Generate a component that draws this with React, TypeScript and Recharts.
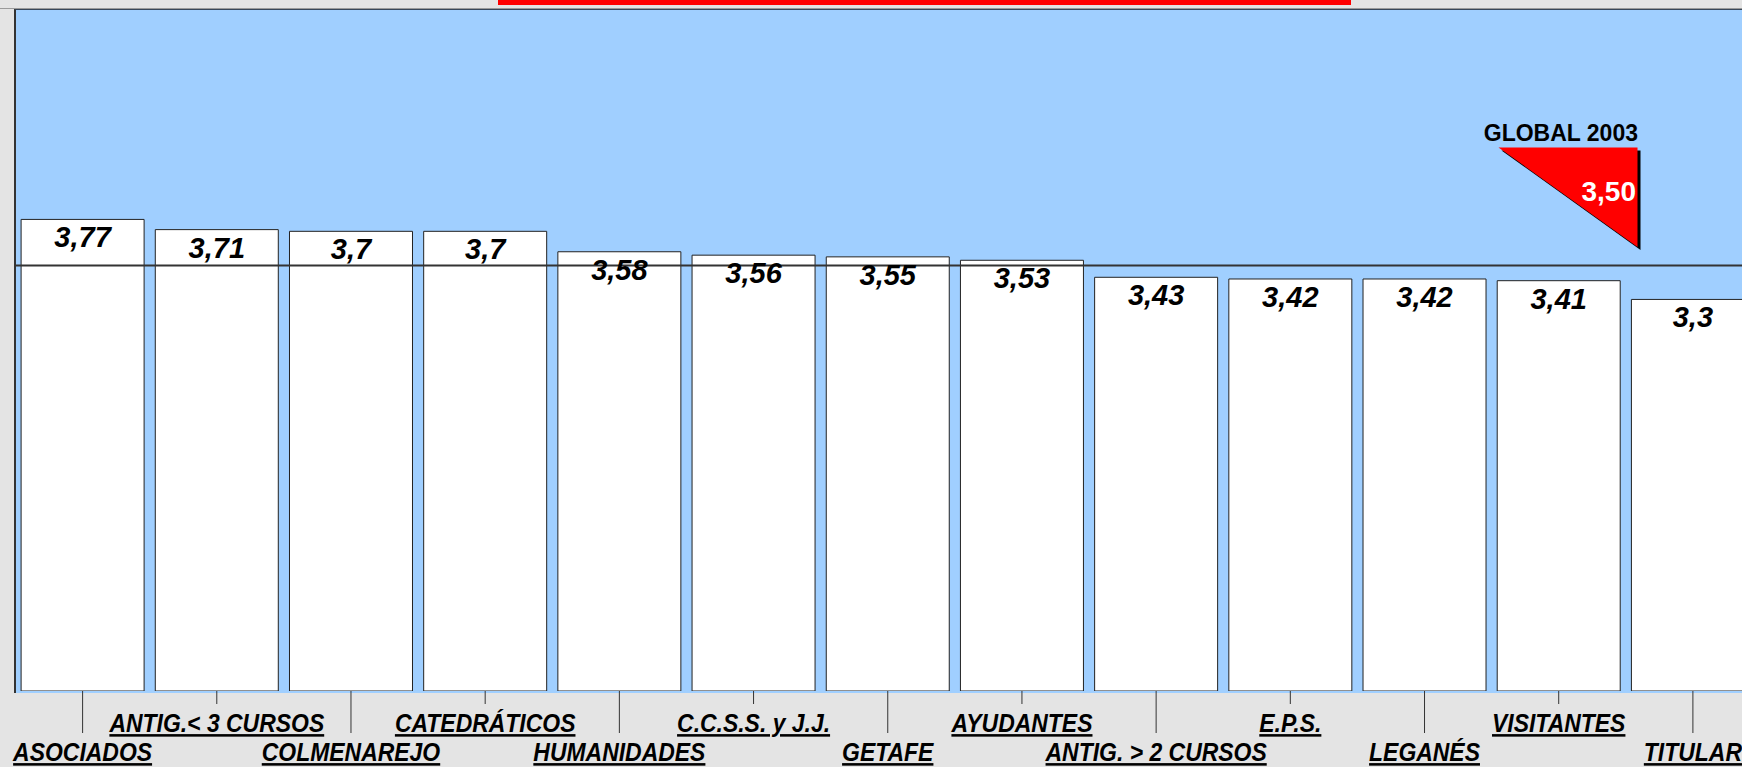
import { BarChart, Bar, XAxis, YAxis, ReferenceLine, LabelList } from 'recharts'

const categories = [
  'ASOCIADOS',
  'ANTIG.< 3 CURSOS',
  'COLMENAREJO',
  'CATEDRÁTICOS',
  'HUMANIDADES',
  'C.C.S.S. y J.J.',
  'GETAFE',
  'AYUDANTES',
  'ANTIG. > 2 CURSOS',
  'E.P.S.',
  'LEGANÉS',
  'VISITANTES',
  'TITULAR',
]
const values = [3.77, 3.71, 3.7, 3.7, 3.58, 3.56, 3.55, 3.53, 3.43, 3.42, 3.42, 3.41, 3.3]
const globalValue = 3.5
const globalLabel = 'GLOBAL 2003'
const yDomain = [1, 5]

const data = categories.map((name, i) => ({ name, value: values[i] }))

const FONT = '"Liberation Sans", Arial, sans-serif'
const fmt = (v: number) => String(v).replace('.', ',')

function StaggeredTick(props: any) {
  const { x, y, payload } = props
  const idx = categories.indexOf(payload.value)
  const upper = idx % 2 === 1
  const tickLen = upper ? 13 : 42
  const baseline = upper ? 41 : 70
  return (
    <g transform={`translate(${x},${y})`}>
      <line x1={0} y1={0} x2={0} y2={tickLen} stroke="#333" strokeWidth={1} />
      <text
        transform={`translate(0,${baseline}) scale(0.9,1)`}
        textAnchor="middle"
        fontFamily={FONT}
        fontSize={25.5}
        fontWeight="bold"
        fontStyle="italic"
        fill="#000"
        style={{ textDecoration: 'underline', textDecorationThickness: '2.5px', textUnderlineOffset: '3px' }}
      >
        {payload.value}
      </text>
    </g>
  )
}

function ValueLabel(props: any) {
  const { x, y, width, value } = props
  return (
    <text
      x={x + width / 2}
      y={y + 28}
      textAnchor="middle"
      fontFamily={FONT}
      fontSize={29}
      fontWeight="bold"
      fontStyle="italic"
      fill="#000"
    >
      {fmt(value)}
    </text>
  )
}

function GlobalMarker(props: any) {
  const vb = props.viewBox || {}
  const ly = vb.y
  const right = vb.x + 1622
  const left = right - 139
  const top = ly - 118
  const tip = ly - 18.5
  return (
    <g>
      <polygon points={`${left + 3},${top + 3} ${right + 3},${top + 3} ${right + 3},${tip + 3}`} fill="#000" />
      <polygon points={`${left},${top} ${right},${top} ${right},${tip}`} fill="#ff0000" />
      <text
        x={right + 0.5}
        y={ly - 124}
        textAnchor="end"
        fontFamily={FONT}
        fontSize={23}
        fontWeight="bold"
        fill="#000"
      >
        {globalLabel}
      </text>
      <text
        x={right - 1.5}
        y={ly - 64}
        textAnchor="end"
        fontFamily={FONT}
        fontSize={28}
        fontWeight="bold"
        fill="#fff"
      >
        {fmt(globalValue).padEnd(4, '0')}
      </text>
    </g>
  )
}

export default function App() {
  return (
    <div
      style={{
        position: 'fixed',
        left: 0,
        top: 0,
        width: 1742,
        height: 767,
        overflow: 'hidden',
        background: '#e4e4e4',
      }}
    >
      <div style={{ position: 'absolute', left: 498, top: 0, width: 853, height: 5, background: '#ff0000' }} />
      <div style={{ position: 'absolute', left: 0, top: 8, width: 1742, height: 1, background: '#9a9a9a' }} />
      <div
        style={{
          position: 'absolute',
          left: 14,
          top: 9,
          width: 1760,
          height: 684,
          background: '#a0cfff',
          borderTop: '1px solid #37475a',
          borderLeft: '2px solid #333',
          boxSizing: 'border-box',
        }}
      />
      <div style={{ position: 'absolute', left: 0, top: 0 }}>
        <BarChart
          width={1770}
          height={767}
          data={data}
          margin={{ top: 10, right: 10, bottom: 0, left: 15.5 }}
          barCategoryGap={5.6}
        >
          <XAxis
            dataKey="name"
            interval={0}
            height={76}
            axisLine={false}
            tickLine={false}
            tickSize={0}
            tickMargin={0}
            tick={<StaggeredTick />}
          />
          <YAxis hide type="number" domain={yDomain} allowDataOverflow />
          <Bar dataKey="value" fill="#ffffff" stroke="#222" strokeWidth={1} isAnimationActive={false}>
            <LabelList dataKey="value" content={<ValueLabel />} />
          </Bar>
          <ReferenceLine
            y={globalValue}
            stroke="#333"
            strokeWidth={2}
            label={(p: any) => <GlobalMarker {...p} />}
          />
        </BarChart>
      </div>
    </div>
  )
}
